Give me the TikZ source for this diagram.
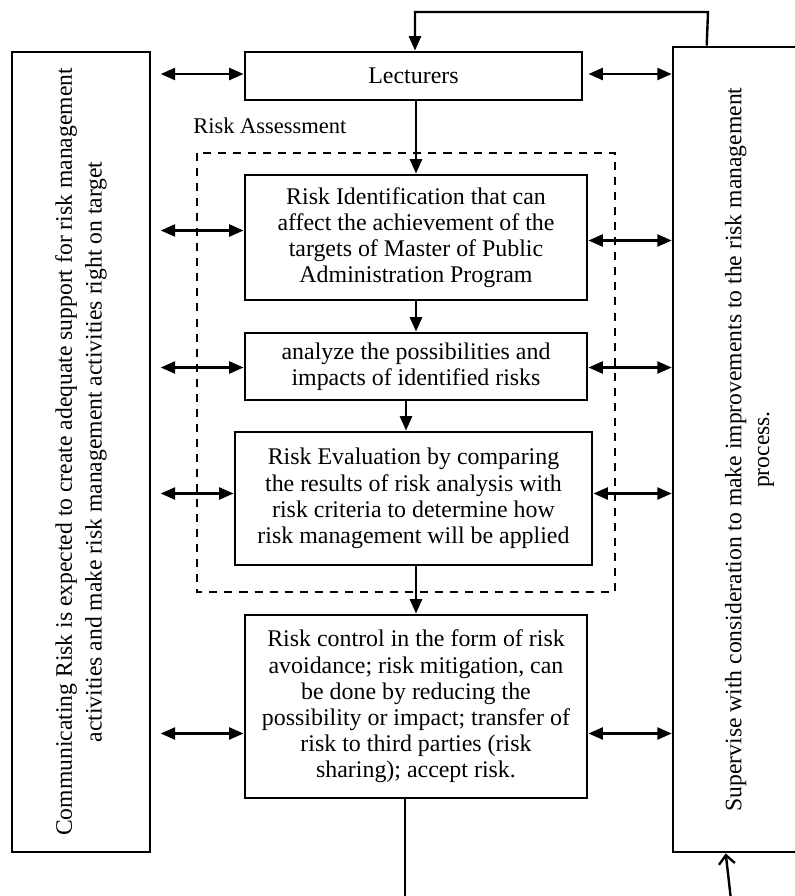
\documentclass[tikz,border=0pt]{standalone}
\usepackage{fontspec}
\setmainfont{Liberation Serif}
\usetikzlibrary{calc,arrows.meta}

\tikzset{
	stagebox/.style={draw, line width=2pt, align=center, inner sep=0pt,
		font=\fontsize{17}{18.6}\selectfont},
	sidebox/.style={draw, line width=1.8pt, inner sep=0pt},
	sidetext/.style={align=center, inner sep=0pt},
	arr/.style={line width=1.7pt, -{Triangle[length=3.6mm,width=3mm]}},
	dbl/.style={line width=1.7pt, {Triangle[length=3.6mm,width=3mm]}-{Triangle[length=3.6mm,width=3mm]}},
	dashbox/.style={line width=2pt, dash pattern=on 5.7pt off 5pt}
}

\begin{document}
\begin{tikzpicture}[x=0.025cm, y=-0.025cm]
		%%%%% frame %%%%%
		\useasboundingbox (0,0) rectangle (795,896);
		\clip (0,0) rectangle (795,896);
		
		%%%%% side boxes %%%%%
		\node[sidebox, line width=1pt, minimum width=3.45cm, minimum height=20cm] (comm) at (81,452) {};
		\node[sidetext, rotate=90, font=\fontsize{16.8}{21.2}\selectfont] (commtxt) at (comm.center)
			{Communicating Risk is expected to create adequate support for risk management\\
			 activities and make risk management activities right on target};
		
		\node[sidebox, minimum width=3.825cm, minimum height=20.125cm] (sup) at (749.5,449.5) {};
		\node[sidetext, rotate=90, font=\fontsize{16.8}{19.8}\selectfont] (suptxt) at (sup.center)
			{Supervise with consideration to make improvements to the risk management\\
			 process.};
		
		%%%%% main column %%%%%
		\node[stagebox, minimum width=8.425cm, minimum height=1.2cm] (lect) at (413.5,76) {Lecturers};
		
		\draw[dashbox] (197,153) rectangle (615,592);
		\node[anchor=base west, inner sep=0pt, font=\fontsize{16}{18}\selectfont] (assess) at (193,133) {Risk Assessment};
		
		\node[stagebox, minimum width=8.55cm, minimum height=3.125cm] (b1) at (416,237.5)
			{Risk Identification that can\\affect the achievement of the\\targets of Master of Public\\Administration Program};
		\node[stagebox, minimum width=8.55cm, minimum height=1.675cm] (b2) at (416,366.5)
			{analyze the possibilities and\\impacts of identified risks};
		\node[stagebox, minimum width=8.925cm, minimum height=3.325cm] (b3) at (413.5,498.5)
			{Risk Evaluation by comparing\\the results of risk analysis with\\risk criteria to determine how\\risk management will be applied};
		\node[stagebox, minimum width=8.55cm, minimum height=4.575cm] (b4) at (416,706.5)
			{Risk control in the form of risk\\avoidance; risk mitigation, can\\be done by reducing the\\possibility or impact; transfer of\\risk to third parties (risk\\sharing); accept risk.};
		
		%%%%% flow down %%%%%
		\coordinate (loop) at (708,12);
		\draw[arr] ($(sup.north west)+(35,0)$) -- (loop) -| ($(lect.north)+(1.5,0)$);
		\draw[arr] (b1.north |- lect.south) -- (b1.north);
		\draw[arr] (b1.south) -- (b2.north);
		\coordinate (b2out) at ($(b2.south)+(-10,0)$);
		\draw[arr] (b2out) -- (b2out |- b3.north);
		\draw[arr] (b4.north |- b3.south) -- (b4.north);
		
		\coordinate (b4out) at ($(b4.south)+(-11,0)$);
		\coordinate (downend) at ($(b4out)+(0,110)$);
		\draw[line width=1.7pt] (b4out) -- (downend);
		
		\coordinate (feedback) at (731,900);
		\draw[line width=1.7pt, -{Straight Barb[length=2.2mm,width=4mm]}] (feedback) -- ($(sup.south west)+(54,0)$);
		
		%%%%% left links %%%%%
		\draw[dbl] ($(comm.east |- lect.west)+(10,-2)$) -- ($(lect.west)+(0,-2)$);
		\draw[dbl] ($(comm.east |- b1.west)+(10,-7)$) -- ($(b1.west)+(0,-7)$);
		\draw[dbl] ($(comm.east |- b2.west)+(10,1)$) -- ($(b2.west)+(0,1)$);
		\draw[dbl] ($(comm.east |- b3.west)+(10,-5)$) -- ($(b3.west)+(0,-5)$);
		\draw[dbl] ($(comm.east |- b4.west)+(10,27)$) -- ($(b4.west)+(0,27)$);
		
		%%%%% right links %%%%%
		\draw[dbl] ($(lect.east)+(5,-2)$) -- ($(sup.west |- lect.east)+(0,-2)$);
		\draw[dbl] ($(b1.east)+(0,3)$) -- ($(sup.west |- b1.east)+(0,3)$);
		\draw[dbl] ($(b2.east)+(0,1)$) -- ($(sup.west |- b2.east)+(0,1)$);
		\draw[dbl] ($(b3.east)+(0,-5)$) -- ($(sup.west |- b3.east)+(0,-5)$);
		\draw[dbl] ($(b4.east)+(0,27)$) -- ($(sup.west |- b4.east)+(0,27)$);
		
	\end{tikzpicture}
\end{document}
